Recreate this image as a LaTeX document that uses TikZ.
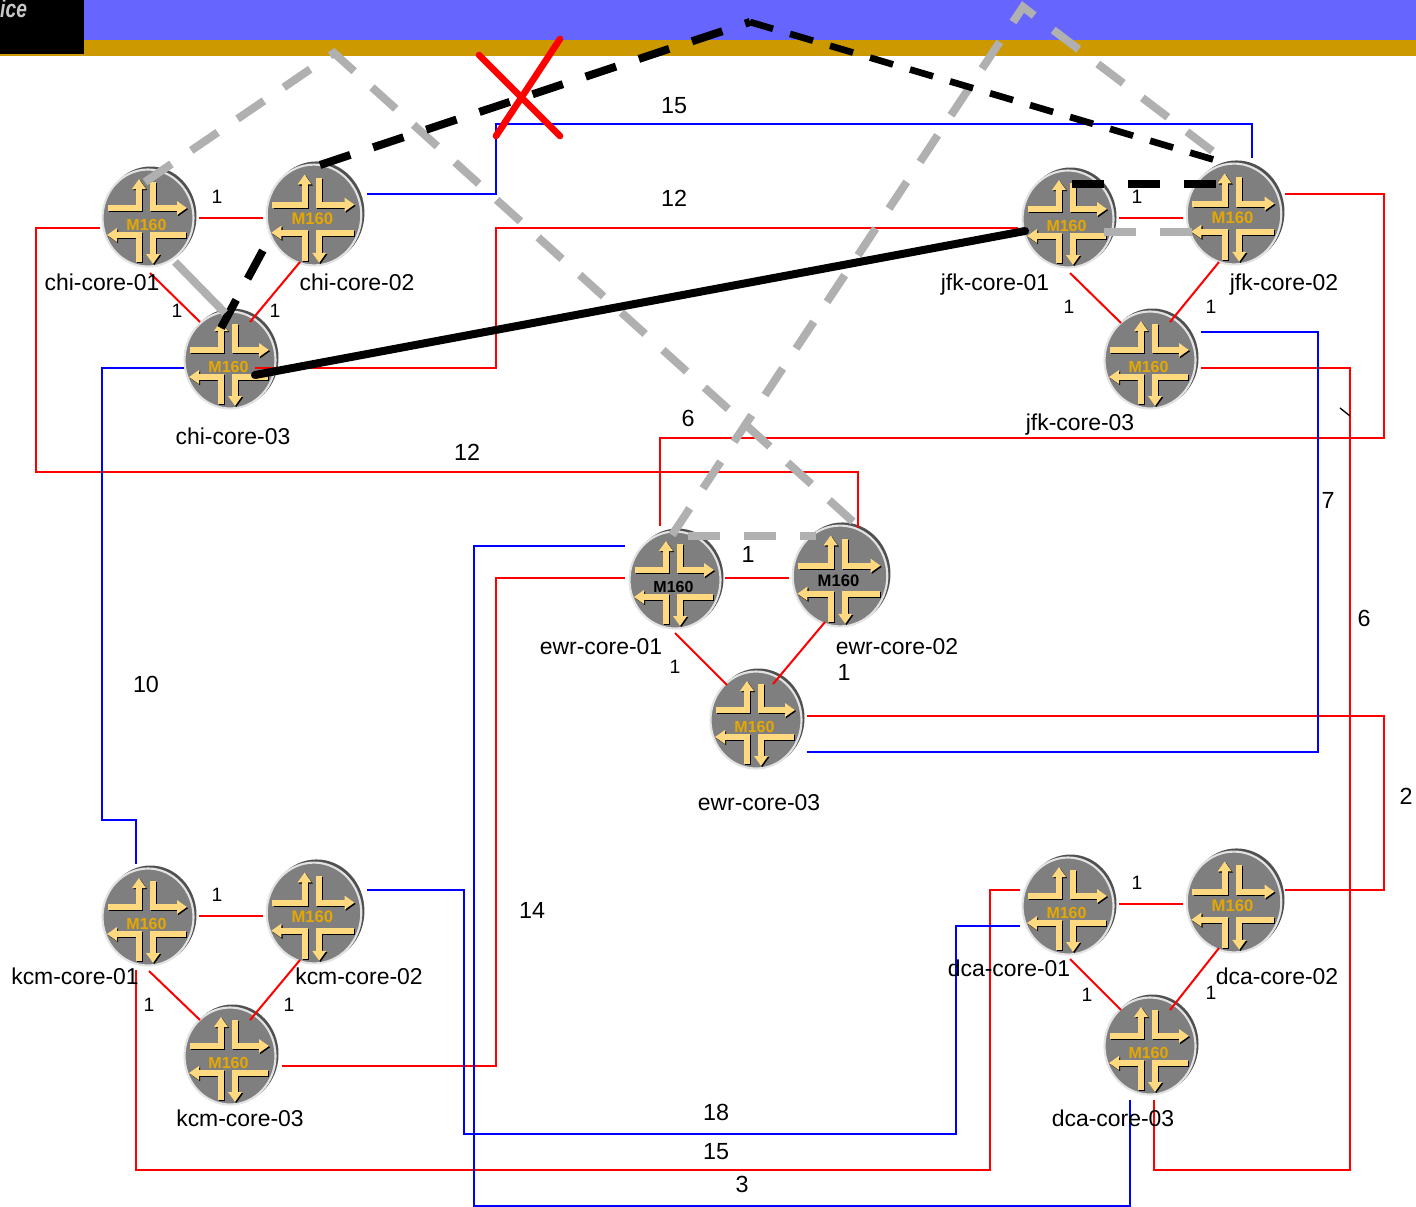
\documentclass[tikz,border=0pt]{standalone}
\usepackage{fontspec}
\setmainfont{Liberation Sans}
\usetikzlibrary{shapes.geometric,arrows.meta}
\definecolor{hdrblue}{HTML}{6666FF}
\definecolor{hdrgold}{HTML}{CC9900}
\definecolor{armyellow}{HTML}{FFD97F}
\definecolor{bodygray}{HTML}{7F7F7F}
\definecolor{rimgray}{HTML}{E2E2E2}
\definecolor{shadowgray}{HTML}{505050}
\definecolor{orangetxt}{HTML}{E6A800}
\definecolor{lnkgray}{HTML}{B0B0B0}
\definecolor{icegray}{HTML}{C8C8C8}
\tikzset{
  routerbody/.style={ellipse,draw=rimgray,line width=1.6pt,fill=bodygray,inner sep=0pt,minimum width=#1*91*0.75pt,minimum height=#1*97*0.75pt},
  arm/.style={line width=4.5pt,line join=miter,-{Triangle[length=7.5pt,width=10pt]}},
  rlink/.style={draw=red,line width=1.5pt},
  blink/.style={draw=blue,line width=1.5pt},
  heavyblack/.style={draw=black,line width=6pt},
  heavygray/.style={draw=lnkgray,line width=6pt},
  dashrun/.style={dash pattern=on 24pt off 18pt},
  finedash/.style={dash pattern=on 18pt off 13.3pt},
  hostlabel/.style={font=\fontsize{17.2}{20}\selectfont,inner sep=0pt,text height=12.5pt,text depth=0.3pt},
  smallnum/.style={font=\fontsize{14.5}{17}\selectfont,inner sep=0pt},
  bignum/.style={font=\fontsize{17.5}{20}\selectfont,inner sep=0pt},
}
\newcommand{\armset}{%
  \draw[arm] (-40,-10) -- (-9,-10) -- (-9,-39);
  \draw[arm] (5,-36) -- (5,-10) -- (39,-10);
  \draw[arm] (-9,44) -- (-9,17) -- (-41,17);
  \draw[arm] (38,17) -- (5,17) -- (5,46);
}
% name, x, y, scale, text colour, text y offset
\newcommand{\routernode}[6]{%
  \pgfmathsetmacro{\mfontsize}{#4*12}%
  \begin{scope}[shift={(#2,#3)},scale=#4]
    \fill[shadowgray] (2.5,-2) ellipse [x radius=46,y radius=49.5];
    \node[routerbody=#4] (#1) at (0,0) {};
    \begin{scope}[shift={(1.2,1.2)},black]\armset\end{scope}
    \begin{scope}[armyellow]\armset\end{scope}
    \node[text=#5,font=\fontsize{\mfontsize}{14}\selectfont\bfseries,inner sep=0pt] (#1txt) at (-1.5,#6) {M160};
  \end{scope}}
\begin{document}
\begin{tikzpicture}[x=0.75pt,y=-0.75pt]
\useasboundingbox (0,0) rectangle (1416,1206);
% header
\fill[hdrblue] (84,0) rectangle (1416,40);
\fill[hdrgold] (84,40) rectangle (1416,56);
\fill[hdrgold] (0,54) rectangle (84,56);
\fill[black] (0,0) rectangle (84,54);
\node[text=icegray,font=\fontsize{18.5}{20}\selectfont\bfseries\itshape,inner sep=0pt,anchor=base west,xscale=0.78,transform shape] (hdrtxt) at (0,18) {ice};
% routers (chi-core-02 goes on after the first black leg)
\coordinate (blackbend) at (320,165);
\coordinate (blackhidden) at (309,165);
\routernode{chi1}{148}{218}{1}{orangetxt}{7}
\routernode{chi3}{230}{360}{1}{orangetxt}{7}
\routernode{jfk1}{1068}{219}{1}{orangetxt}{7}
\routernode{jfk2}{1234}{214}{1.04}{orangetxt}{4}
\routernode{jfk3}{1150}{360}{1}{orangetxt}{7}
\routernode{ewr1}{675}{580}{1}{black}{7}
\routernode{ewr2}{840}{576}{1.04}{black}{5}
\routernode{ewr3}{756}{720}{1}{orangetxt}{7}
\routernode{kcm1}{148}{917}{1}{orangetxt}{7}
\routernode{kcm2}{314}{913}{1.04}{orangetxt}{4}
\routernode{kcm3}{230}{1056}{1}{orangetxt}{7}
\routernode{dca1}{1068}{906}{1}{orangetxt}{7}
\routernode{dca2}{1234}{902}{1.04}{orangetxt}{4}
\routernode{dca3}{1150}{1046}{1}{orangetxt}{7}
\draw[heavyblack,dashrun] ([shift={(-9,-32)}]chi3.center) -- (blackhidden);
\routernode{chi2}{314}{215}{1.04}{orangetxt}{4}
% red links inside sites
\draw[rlink] ([shift={(51,0)}]chi1.center) -- ([shift={(-51,3)}]chi2.center);
\draw[rlink] ([shift={(2,55)}]chi1.center) -- ([shift={(-30,-38)}]chi3.center);
\draw[rlink] ([shift={(-14,47)}]chi2.center) -- ([shift={(20,-38)}]chi3.center);
\draw[rlink] ([shift={(51,-1)}]jfk1.center) -- ([shift={(-51,4)}]jfk2.center);
\draw[rlink] ([shift={(2,54)}]jfk1.center) -- ([shift={(-29,-37)}]jfk3.center);
\draw[rlink] ([shift={(-15,48)}]jfk2.center) -- ([shift={(20,-38)}]jfk3.center);
\draw[rlink] ([shift={(50,-2)}]ewr1.center) -- ([shift={(-51,2)}]ewr2.center);
\draw[rlink] ([shift={(0,53)}]ewr1.center) -- ([shift={(-29,-35)}]ewr3.center);
\draw[rlink] ([shift={(-15,46)}]ewr2.center) -- ([shift={(17,-36)}]ewr3.center);
\draw[rlink] ([shift={(51,-1)}]kcm1.center) -- ([shift={(-51,3)}]kcm2.center);
\draw[rlink] ([shift={(1,54)}]kcm1.center) -- ([shift={(-30,-36)}]kcm3.center);
\draw[rlink] ([shift={(-14,47)}]kcm2.center) -- ([shift={(20,-36)}]kcm3.center);
\draw[rlink] ([shift={(51,-2)}]dca1.center) -- ([shift={(-51,2)}]dca2.center);
\draw[rlink] ([shift={(2,53)}]dca1.center) -- ([shift={(-29,-36)}]dca3.center);
\draw[rlink] ([shift={(-15,46)}]dca2.center) -- ([shift={(20,-36)}]dca3.center);
% long red links
\draw[rlink] ([shift={(-48,10)}]chi1.center) -- (36,228) -- (36,472) -- (858,472) -- ([shift={(18,-48)}]ewr2.center);
\draw[rlink] ([shift={(25,8)}]chi3.center) -- (496,368) -- (496,228) -- ([shift={(-50,9)}]jfk1.center);
\draw[rlink] ([shift={(51,-20)}]jfk2.center) -- (1384,194) -- (1384,438) -- (660,438) -- ([shift={(-15,-54)}]ewr1.center);
\draw[rlink] ([shift={(51,8)}]jfk3.center) -- (1350,368) -- (1350,1170) -- (1154,1170) -- ([shift={(4,54)}]dca3.center);
\draw[rlink] ([shift={(-50,-2)}]ewr1.center) -- (496,578) -- (496,1066) -- ([shift={(52,10)}]kcm3.center);
\draw[rlink] ([shift={(51,-4)}]ewr3.center) -- (1384,716) -- (1384,890) -- ([shift={(51,-12)}]dca2.center);
\draw[rlink] ([shift={(-12,53)}]kcm1.center) -- (136,1170) -- (990,1170) -- (990,890) -- ([shift={(-48,-16)}]dca1.center);
% blue links
\draw[blink] ([shift={(53,-21)}]chi2.center) -- (496,194) -- (496,124) -- (1252,124) -- ([shift={(18,-56)}]jfk2.center);
\draw[blink] ([shift={(-46,8)}]chi3.center) -- (102,368) -- (102,820) -- (136,820) -- ([shift={(-12,-53)}]kcm1.center);
\draw[blink] ([shift={(51,-28)}]jfk3.center) -- (1318,332) -- (1318,752) -- ([shift={(51,32)}]ewr3.center);
\draw[blink] ([shift={(-50,-34)}]ewr1.center) -- (474,546) -- (474,1206) -- (1130,1206) -- ([shift={(-20,54)}]dca3.center);
\draw[blink] ([shift={(53,-23)}]kcm2.center) -- (464,890) -- (464,1134) -- (956,1134) -- (956,926) -- ([shift={(-48,20)}]dca1.center);
% heavy links
\coordinate (graypeakl) at (334,53);
\coordinate (graypeakr) at (1023,7);
\coordinate (blackpeak) at (750,22);
\draw[heavygray,dashrun] ([shift={(-3,-36)}]chi1.center) -- (graypeakl) -- ([shift={(20,-48)}]ewr2.center);
\draw[heavygray] ([shift={(27,44)}]chi1.center) -- ([shift={(-5,-47)}]chi3.center);
\draw[heavygray,dashrun] ([shift={(-3,-45)}]ewr1.center) -- (graypeakr) -- ([shift={(-6,-51)}]jfk2.center);
\draw[heavygray,dashrun] ([shift={(36,13)}]jfk1.center) -- ([shift={(-42,18)}]jfk2.center);
\draw[heavygray,dashrun] ([shift={(13,-44)}]ewr1.center) -- ([shift={(-24,-40)}]ewr2.center);
\draw[heavyblack,dashrun] (blackbend) -- (blackpeak);
\draw[heavyblack,finedash,line width=5pt] (blackpeak) -- ([shift={(-9,-51)}]jfk2.center);
\draw[heavyblack,dashrun] ([shift={(4,-35)}]jfk1.center) -- ([shift={(-18,-30)}]jfk2.center);
\draw[heavyblack,line cap=round] ([shift={(25,15)}]chi3.center) -- ([shift={(-43,12)}]jfk1.center);
% failure mark
\coordinate (xa) at (479,55);
\coordinate (xb) at (560,136);
\coordinate (xc) at (560,39);
\coordinate (xd) at (496,136);
\draw[draw=red,line width=5pt,line cap=round] (xa) -- (xb);
\draw[draw=red,line width=5pt,line cap=round] (xc) -- (xd);
\draw[draw=black,line width=1pt] (1340,408) -- (1350,416);
% host labels
\node[hostlabel] (l1) at (102,282) {chi-core-01};
\node[hostlabel] (l2) at (357,282) {chi-core-02};
\node[hostlabel] (l3) at (233,436) {chi-core-03};
\node[hostlabel] (l4) at (995,282) {jfk-core-01};
\node[hostlabel] (l5) at (1284,282) {jfk-core-02};
\node[hostlabel] (l6) at (1080,422) {jfk-core-03};
\node[hostlabel] (l7) at (601,646) {ewr-core-01};
\node[hostlabel] (l8) at (897,646) {ewr-core-02};
\node[hostlabel] (l9) at (759,802) {ewr-core-03};
\node[hostlabel] (l10) at (75,976) {kcm-core-01};
\node[hostlabel] (l11) at (359,976) {kcm-core-02};
\node[hostlabel] (l12) at (240,1118) {kcm-core-03};
\node[hostlabel] (l13) at (1009,968) {dca-core-01};
\node[hostlabel] (l14) at (1277,976) {dca-core-02};
\node[hostlabel] (l15) at (1113,1118) {dca-core-03};
% metrics
\node[smallnum] (m1) at (217,197) {1};
\node[smallnum] (m2) at (177,311) {1};
\node[smallnum] (m3) at (275,311) {1};
\node[smallnum] (m4) at (1137,197) {1};
\node[smallnum] (m5) at (1069,307) {1};
\node[smallnum] (m6) at (1211,307) {1};
\node[smallnum] (m7) at (675,667) {1};
\node[smallnum] (m8) at (217,895) {1};
\node[smallnum] (m9) at (149,1005) {1};
\node[smallnum] (m10) at (289,1005) {1};
\node[smallnum] (m11) at (1137,883) {1};
\node[smallnum] (m12) at (1087,995) {1};
\node[smallnum] (m13) at (1211,993) {1};
\node[bignum] (n1) at (748,554) {1};
\node[bignum] (n2) at (844,672) {1};
\node[bignum] (n3) at (674,106) {15};
\node[bignum] (n4) at (674,198) {12};
\node[bignum] (n5) at (467,452) {12};
\node[bignum] (n6) at (688,418) {6};
\node[bignum] (n7) at (1328,500) {7};
\node[bignum] (n8) at (1364,618) {6};
\node[bignum] (n9) at (1406,796) {2};
\node[bignum] (n10) at (146,684) {10};
\node[bignum] (n11) at (532,910) {14};
\node[bignum] (n12) at (716,1112) {18};
\node[bignum] (n13) at (716,1152) {15};
\node[bignum] (n14) at (742,1184) {3};
\end{tikzpicture}
\end{document}
